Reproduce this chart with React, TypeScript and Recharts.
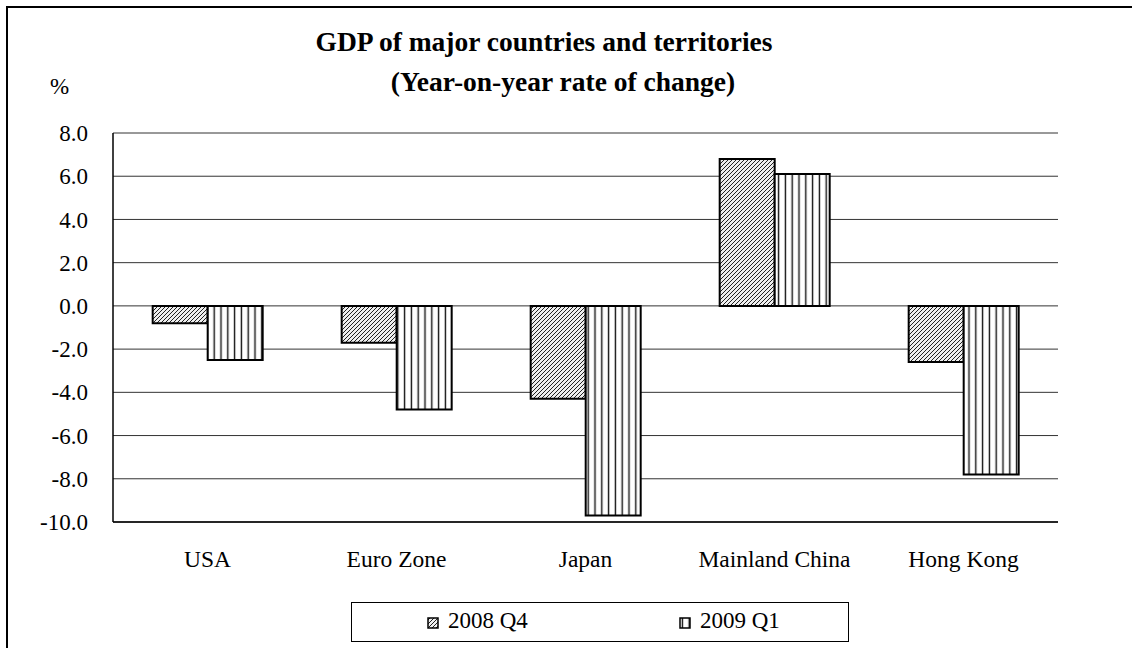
import { BarChart, Bar, XAxis, YAxis, CartesianGrid } from "recharts";

const categories = ["USA", "Euro Zone", "Japan", "Mainland China", "Hong Kong"];
const q4_2008 = [-0.8, -1.7, -4.3, 6.8, -2.6];
const q1_2009 = [-2.5, -4.8, -9.7, 6.1, -7.8];
const yTicks = [-10, -8, -6, -4, -2, 0, 2, 4, 6, 8];

const SERIES = [
  { key: "q4", name: "2008 Q4", values: q4_2008, fill: "url(#hatchDiag)" },
  { key: "q1", name: "2009 Q1", values: q1_2009, fill: "url(#hatchVert)" },
];

const FONT = '"Liberation Serif", "Times New Roman", Times, serif';

const data = categories.map((c, i) => {
  const row: Record<string, string | number> = { name: c };
  for (const s of SERIES) row[s.key] = s.values[i];
  return row;
});

function Patterns() {
  return (
    <defs>
      <pattern id="hatchDiag" patternUnits="userSpaceOnUse" width="4" height="4">
        <rect width="4" height="4" fill="#eeeeee" />
        <path d="M-1,1 l2,-2 M0,4 l4,-4 M3,5 l2,-2" stroke="#222" strokeWidth="1" />
      </pattern>
      <pattern id="hatchVert" patternUnits="userSpaceOnUse" width="6.8" height="6.8">
        <rect width="6.8" height="6.8" fill="#fff" />
        <line x1="3.4" y1="0" x2="3.4" y2="6.8" stroke="#111" strokeWidth="1.4" />
      </pattern>
    </defs>
  );
}

function LegendIcon({ fill }: { fill: string }) {
  return (
    <svg width="12" height="12" style={{ marginRight: 9, verticalAlign: "-1px" }}>
      <rect x="1" y="1" width="10" height="10" fill={fill} stroke="#000" strokeWidth="1.5" />
    </svg>
  );
}

export default function App() {
  return (
    <div
      style={{
        position: "fixed",
        left: 0,
        top: 0,
        width: 1132,
        height: 648,
        overflow: "hidden",
        background: "#fff",
        fontFamily: FONT,
      }}
    >
      <div
        style={{
          position: "absolute",
          left: 6,
          top: 6,
          width: 1200,
          height: 700,
          border: "2px solid #000",
        }}
      />
      <div
        style={{
          position: "absolute",
          left: 0,
          width: 1088,
          top: 22,
          textAlign: "center",
          fontWeight: "bold",
          fontSize: 27.5,
          lineHeight: "40px",
        }}
      >
        GDP of major countries and territories
      </div>
      <div
        style={{
          position: "absolute",
          left: 0,
          width: 1126,
          top: 62,
          textAlign: "center",
          fontWeight: "bold",
          fontSize: 27.5,
          lineHeight: "40px",
        }}
      >
        (Year-on-year rate of change)
      </div>
      <div style={{ position: "absolute", left: 50, top: 74, fontSize: 23, lineHeight: "26px" }}>%</div>

      <div style={{ position: "absolute", left: 0, top: 0 }}>
        <BarChart
          width={1132}
          height={648}
          data={data}
          margin={{ top: 133, right: 74, left: 0, bottom: 96 }}
          barCategoryGap="21%"
          barGap={0}
          style={{ fontFamily: FONT }}
        >
          <Patterns />
          <CartesianGrid vertical={false} stroke="#333" strokeWidth={1} />
          <XAxis
            dataKey="name"
            height={30}
            tickLine={false}
            tickSize={0}
            tickMargin={28}
            axisLine={{ stroke: "#000", strokeWidth: 1.5 }}
            tick={{ fill: "#000", fontSize: 23.5, fontFamily: FONT }}
          />
          <YAxis
            domain={[-10, 8]}
            ticks={yTicks}
            interval={0}
            width={113}
            tickLine={false}
            tickSize={0}
            tickMargin={25}
            axisLine={{ stroke: "#000", strokeWidth: 1.5 }}
            tickFormatter={(v) => Number(v).toFixed(1)}
            tick={{ fill: "#000", fontSize: 23, fontFamily: FONT }}
          />
          <YAxis
            yAxisId="right"
            orientation="right"
            domain={[-10, 8]}
            width={0}
            tick={false}
            tickLine={false}
            axisLine={{ stroke: "#777", strokeWidth: 1.5 }}
          />
          {SERIES.map((s) => (
            <Bar
              key={s.key}
              dataKey={s.key}
              name={s.name}
              fill={s.fill}
              stroke="#000"
              strokeWidth={2}
              isAnimationActive={false}
            />
          ))}
        </BarChart>
      </div>

      <div
        style={{
          position: "absolute",
          left: 351,
          top: 602,
          width: 496,
          height: 38,
          border: "1.5px solid #000",
          fontSize: 23,
        }}
      >
        {SERIES.map((s, i) => (
          <div
            key={s.key}
            style={{
              position: "absolute",
              left: i === 0 ? 75 : 327,
              top: 5,
              lineHeight: "26px",
              whiteSpace: "nowrap",
            }}
          >
            <LegendIcon fill={s.fill} />
            {s.name}
          </div>
        ))}
      </div>
    </div>
  );
}
